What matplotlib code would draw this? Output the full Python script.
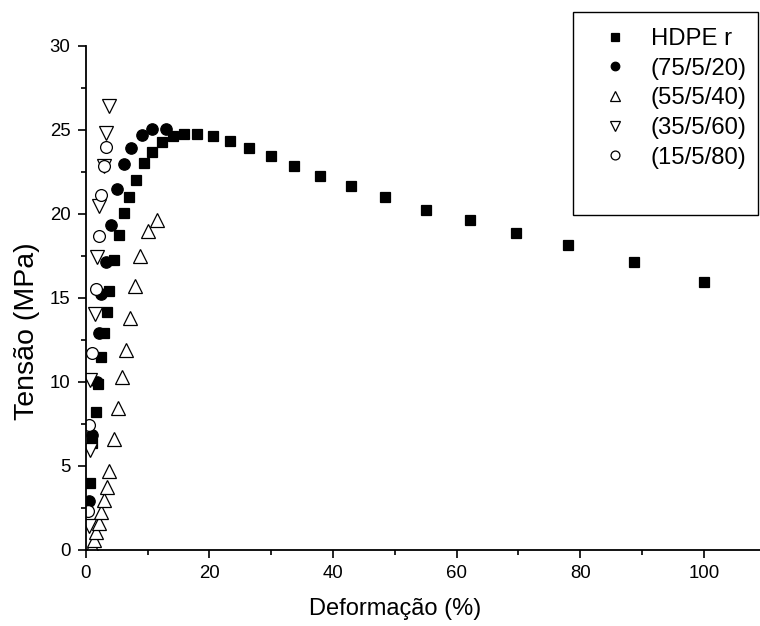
import matplotlib
matplotlib.use("Agg")
import matplotlib.pyplot as plt
from matplotlib.patches import Rectangle
from matplotlib.ticker import MultipleLocator

plt.rcParams['font.family'] = ['Liberation Sans', 'DejaVu Sans']

# HDPE r
hdpe_x = [0.76, 1.02, 1.57, 1.99, 2.48, 2.91, 3.35, 3.72, 4.53, 5.34, 6.15, 6.96, 8.2, 9.43,
          10.73, 12.35, 14.03, 15.97, 18.0, 20.6, 23.4, 26.4, 29.9, 33.7, 37.9, 42.9, 48.4,
          55.0, 62.1, 69.6, 78.0, 88.7, 100.0]
hdpe_y = [3.94, 6.32, 8.21, 9.84, 11.44, 12.86, 14.16, 15.41, 17.21, 18.73, 20.01, 20.99, 22.0, 23.0,
          23.67, 24.23, 24.59, 24.75, 24.75, 24.59, 24.29, 23.9, 23.42, 22.84, 22.24, 21.65, 21.0,
          20.2, 19.6, 18.85, 18.1, 17.1, 15.9]

# (75/5/20)
b75_x = [0.49, 1.02, 1.78, 2.1, 2.48, 3.19, 4.09, 5.1, 6.23, 7.36, 9.11, 10.79, 12.99]
b75_y = [2.91, 6.82, 9.98, 12.86, 15.22, 17.14, 19.33, 21.48, 22.93, 23.9, 24.7, 25.04, 25.04]

# (55/5/40)
b55_x = [1.02, 1.29, 1.73, 2.1, 2.38, 2.91, 3.35, 3.72, 4.53, 5.23, 5.83, 6.47, 7.12, 7.93,
         8.79, 10.08, 11.6]
b55_y = [0.2, 0.57, 1.06, 1.55, 2.25, 2.95, 3.74, 4.69, 6.55, 8.45, 10.29, 11.88, 13.79, 15.68,
         17.48, 18.97, 19.62]

# (35/5/60)
b35_x = [0.49, 0.76, 0.76, 1.46, 1.83, 2.1, 2.91, 3.19, 3.72]
b35_y = [1.4, 5.93, 10.1, 14.01, 17.44, 20.46, 22.84, 24.79, 26.37]

# (15/5/80)
b15_x = [0.32, 0.49, 1.02, 1.57, 2.1, 2.38, 2.91, 3.28]
b15_y = [2.31, 7.41, 11.72, 15.52, 18.67, 21.11, 22.84, 23.95]

labels = ['HDPE r', '(75/5/20)', '(55/5/40)', '(35/5/60)', '(15/5/80)']

W, H = 760, 626
fig = plt.figure(figsize=(W / 100, H / 100), dpi=100)
ax = fig.add_axes([85.8 / W, (H - 549.5) / H, (W - 85.8) / W, (549.5 - 45.5) / H])

mew = 0.9
h1, = ax.plot(hdpe_x, hdpe_y, ls='none', marker='s', ms=7.2, mfc='black', mec='black', mew=mew)
h2, = ax.plot(b75_x, b75_y, ls='none', marker='o', ms=8.2, mfc='black', mec='black', mew=mew)
h3, = ax.plot(b55_x, b55_y, ls='none', marker='^', ms=9.5, mfc='white', mec='black', mew=mew)
h4, = ax.plot(b35_x, b35_y, ls='none', marker='v', ms=9.5, mfc='white', mec='black', mew=mew)
h5, = ax.plot(b15_x, b15_y, ls='none', marker='o', ms=8.5, mfc='white', mec='black', mew=mew)

ax.set_xlim(0, 109.1)
ax.set_ylim(0, 30)
ax.xaxis.set_major_locator(MultipleLocator(20))
ax.xaxis.set_minor_locator(MultipleLocator(10))
ax.yaxis.set_major_locator(MultipleLocator(5))
ax.yaxis.set_minor_locator(MultipleLocator(2.5))
ax.spines['top'].set_visible(False)
ax.spines['right'].set_visible(False)
for s in ('left', 'bottom'):
    ax.spines[s].set_linewidth(1.3)
ax.tick_params(which='major', direction='out', length=6, width=1.2, labelsize=13.4, pad=5)
ax.tick_params(which='minor', direction='out', length=3.5, width=1.2)

ax.set_xlabel('Deformação (%)', fontsize=17, labelpad=12, x=50 / 109.1)
ax.set_ylabel('Tensão (MPa)', fontsize=20.5, labelpad=7, y=13.0 / 30)

# legend box
rect = Rectangle((573 / W, (H - 215) / H), (758 - 573) / W, (215 - 12) / H,
                 transform=fig.transFigure, fill=False, edgecolor='black', lw=1.0,
                 clip_on=False)
fig.add_artist(rect)
leg = fig.legend([h1, h2, h3, h4, h5], labels, loc='upper left',
                 bbox_to_anchor=(585 / W, (H - 16) / H), frameon=False,
                 fontsize=17.2, markerscale=0.75, handlelength=1.5,
                 handletextpad=0.75, labelspacing=0.32, borderpad=0.0)

fig.savefig('out.png', dpi=100)
